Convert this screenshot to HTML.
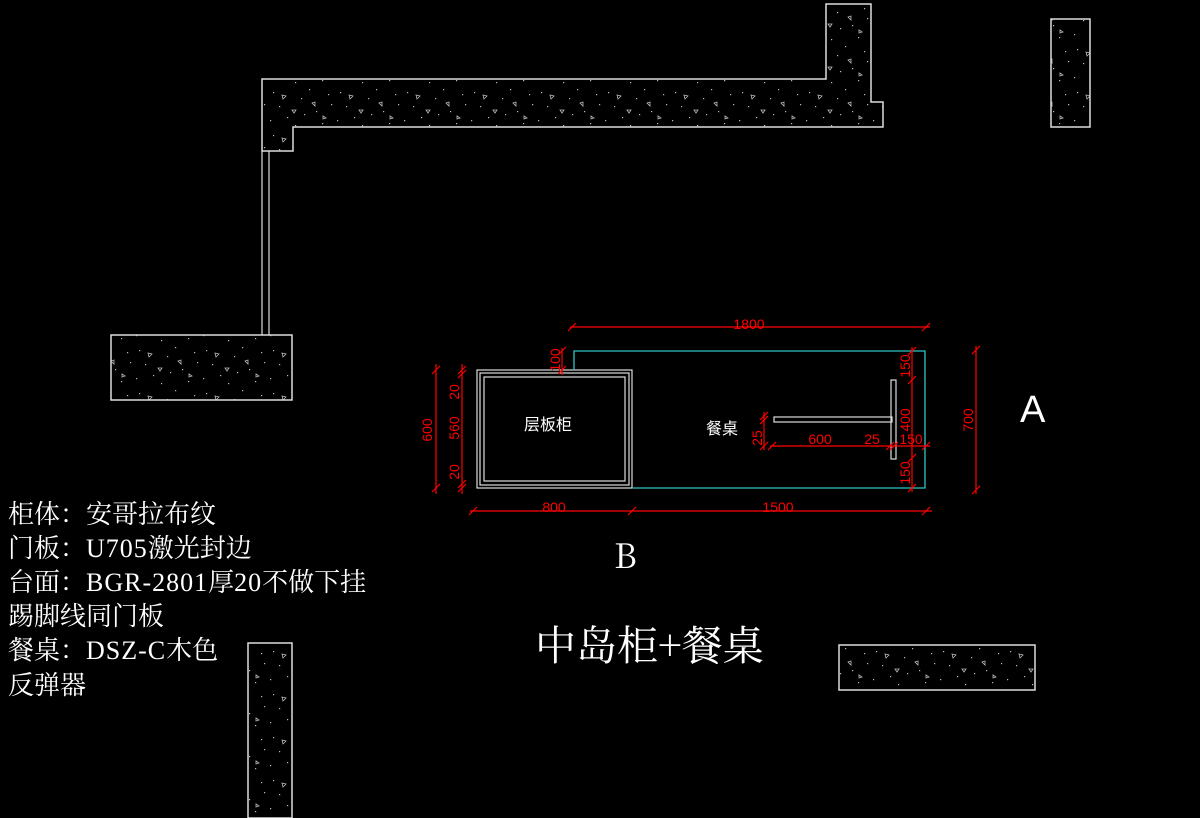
<!DOCTYPE html>
<html><head><meta charset="utf-8"><style>
html,body{margin:0;padding:0;background:#000;}
svg{display:block}
.t{font-family:"Noto Serif CJK SC","Liberation Serif",serif;fill:#fff}
.l{font-family:"Liberation Serif",serif;letter-spacing:1px}
.d{font-family:"Liberation Sans","Noto Sans CJK SC",sans-serif;fill:#f00;font-size:14px}
</style></head><body>
<svg width="1200" height="818" viewBox="0 0 1200 818" xmlns="http://www.w3.org/2000/svg">
<defs>
<pattern id="p" width="67" height="43" patternUnits="userSpaceOnUse">
<g fill="#bbb" stroke="none">
<rect x="5" y="6" width="1.2" height="1.2"/><rect x="19" y="31" width="1.2" height="1.2"/><rect x="33" y="12" width="1.2" height="1.2"/>
<rect x="48" y="25" width="1.2" height="1.2"/><rect x="60" y="8" width="1.2" height="1.2"/><rect x="11" y="20" width="1.2" height="1.2"/>
<rect x="27" y="39" width="1.2" height="1.2"/><rect x="54" y="37" width="1.2" height="1.2"/><rect x="41" y="3" width="1.2" height="1.2"/>
<rect x="2" y="34" width="1.2" height="1.2"/><rect x="36" y="28" width="1.2" height="1.2"/><rect x="63" y="18" width="1.2" height="1.2"/>
</g>
<g fill="none" stroke="#bbb" stroke-width="0.8">
<path d="M14 9 l4 1 l-3 3z"/><path d="M44 17 l3 -1 l0 4z"/><path d="M24 24 l4 0 l-2 3z"/><path d="M55 30 l3 2 l-3 1z"/>
</g>
</pattern>
</defs>
<g stroke="#ddd" stroke-width="1.5" fill="url(#p)">
<path d="M262 79 H826 V4 H871 V102 H883 V127 H293 V151 H262 Z"/>
<rect x="1051" y="19" width="39" height="108"/>
<rect x="111" y="335" width="181" height="65"/>
<rect x="248" y="643" width="44" height="175"/>
<rect x="839" y="645" width="196" height="45"/>
</g>
<g stroke="#ddd" stroke-width="1.2" fill="none">
<line x1="262" y1="151" x2="262" y2="335"/><line x1="269" y1="151" x2="269" y2="335"/>
<rect x="477" y="370" width="155" height="118"/>
<rect x="480" y="373" width="149" height="112"/>
<rect x="484" y="377" width="141" height="104"/>
<rect x="774" y="417" width="118" height="5"/>
<rect x="891" y="380" width="5" height="79"/>
</g>
<path d="M574 370 V351 H925 V488 H632" stroke="#2ec4c4" stroke-width="1.3" fill="none"/>
<g stroke="#f00" stroke-width="1.2" fill="none">
<line x1="570" y1="327" x2="930" y2="327"/>
<path d="M568 331 l8 -8 M922 331 l8 -8"/>
<line x1="470" y1="511" x2="932" y2="511"/>
<path d="M469 515 l8 -8 M628 515 l8 -8 M922 515 l8 -8"/>
<line x1="436" y1="364" x2="436" y2="494"/>
<path d="M432 374 l8 -8 M432 492 l8 -8"/>
<line x1="462" y1="364" x2="462" y2="494"/>
<path d="M458 374 l8 -8 M458 378 l8 -8 M458 488 l8 -8 M458 492 l8 -8"/>
<line x1="562" y1="348" x2="562" y2="375"/>
<path d="M558 355 l8 -8 M558 374 l8 -8"/>
<line x1="912" y1="347" x2="912" y2="492"/>
<path d="M908 355 l8 -8 M908 384 l8 -8 M908 462 l8 -8 M908 492 l8 -8"/>
<line x1="976" y1="346" x2="976" y2="494"/>
<path d="M972 354 l8 -8 M972 494 l8 -8"/>
<line x1="764" y1="412" x2="764" y2="450"/>
<path d="M760 420 l8 -8 M760 424 l8 -8 M760 450 l8 -8"/>
<line x1="770" y1="446" x2="930" y2="446"/>
<path d="M768 450 l8 -8 M886 450 l8 -8 M890 450 l8 -8 M922 450 l8 -8"/>
</g>
<g class="d">
<text x="749" y="329" text-anchor="middle">1800</text>
<text x="554" y="512" text-anchor="middle">800</text>
<text x="778" y="512" text-anchor="middle">1500</text>
<text x="820" y="444" text-anchor="middle">600</text>
<text x="872" y="444" text-anchor="middle">25</text>
<text x="911" y="444" text-anchor="middle">150</text>
<text transform="translate(432,430) rotate(-90)" text-anchor="middle">600</text>
<text transform="translate(459,428) rotate(-90)" text-anchor="middle">560</text>
<text transform="translate(459,392) rotate(-90)" text-anchor="middle">20</text>
<text transform="translate(459,472) rotate(-90)" text-anchor="middle">20</text>
<text transform="translate(560,360) rotate(-90)" text-anchor="middle">100</text>
<text transform="translate(910,366) rotate(-90)" text-anchor="middle">150</text>
<text transform="translate(910,420) rotate(-90)" text-anchor="middle">400</text>
<text transform="translate(910,473) rotate(-90)" text-anchor="middle">150</text>
<text transform="translate(973,420) rotate(-90)" text-anchor="middle">700</text>
<text transform="translate(762,438) rotate(-90)" text-anchor="middle">25</text>
</g>
<g font-family="Liberation Sans,'Noto Sans CJK SC',sans-serif" fill="#fff" font-size="16">
<text x="524" y="430">层板柜</text>
<text x="706" y="434">餐桌</text>
</g>
<text x="1020" y="422" font-family="Liberation Sans,sans-serif" font-size="38" fill="#fff">A</text>
<text class="t" x="614" y="568" font-family="Liberation Serif,serif" font-size="34">B</text>
<g class="t" font-size="26">
<text x="8" y="523">柜体：安哥拉布纹</text>
<text x="8" y="557">门板：<tspan class="l">U705</tspan>激光封边</text>
<text x="8" y="591">台面：<tspan class="l">BGR-2801</tspan>厚<tspan class="l">20</tspan>不做下挂</text>
<text x="8" y="625">踢脚线同门板</text>
<text x="8" y="659">餐桌：<tspan class="l">DSZ-C</tspan>木色</text>
<text x="8" y="694">反弹器</text>
</g>
<text class="t" x="535" y="660" font-size="41">中岛柜+餐桌</text>
</svg>
</body></html>
